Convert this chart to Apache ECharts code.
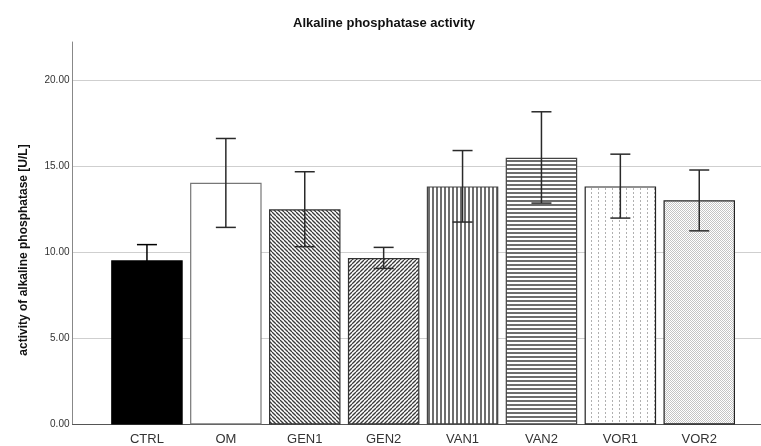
<!DOCTYPE html>
<html>
<head>
    <meta charset="UTF-8">
    <title>Alkaline phosphatase activity</title>
    <script src="https://cdn.jsdelivr.net/npm/echarts@6/dist/echarts.min.js"></script>
    <style type="text/css">
        html, body { margin: 0; padding: 0; background: #fff; }
        #chart { width: 761px; height: 446px; }
    </style>
</head>
<body>
<div id="chart"></div>
<script>
    // values
    let groups = ['CTRL', 'OM', 'GEN1', 'GEN2', 'VAN1', 'VAN2', 'VOR1', 'VOR2'];
    let means = [9.53, 14.03, 12.49, 9.66, 13.82, 15.48, 13.82, 13.01];
    let errLow = [8.62, 11.44, 10.32, 9.06, 11.75, 12.85, 11.98, 11.24];
    let errHigh = [10.44, 16.6, 14.67, 10.28, 15.9, 18.15, 15.69, 14.77];
    let yTicks = [0, 5, 10, 15, 20];
    let yMax = 22.2;

    function makePattern(w, h, draw) {
        let c = document.createElement('canvas');
        c.width = w;
        c.height = h;
        let ctx = c.getContext('2d');
        ctx.fillStyle = '#fff';
        ctx.fillRect(0, 0, w, h);
        draw(ctx);
        return {image: c, repeat: 'repeat'};
    }

    function diag(dir) {
        return makePattern(4, 4, function (ctx) {
            ctx.strokeStyle = '#3a3a3a';
            ctx.lineWidth = 1.3;
            for (let o = -4; o <= 4; o += 4) {
                ctx.beginPath();
                if (dir > 0) {
                    ctx.moveTo(o, 0);
                    ctx.lineTo(o + 4, 4);
                } else {
                    ctx.moveTo(o + 4, 0);
                    ctx.lineTo(o, 4);
                }
                ctx.stroke();
            }
        });
    }

    let fills = [
        '#000',
        '#fff',
        diag(1),
        diag(-1),
        makePattern(4, 4, function (ctx) {
            ctx.fillStyle = '#6e6e6e';
            ctx.fillRect(0, 0, 2, 4);
        }),
        makePattern(4, 4, function (ctx) {
            ctx.fillStyle = '#6e6e6e';
            ctx.fillRect(0, 0, 4, 2);
        }),
        makePattern(7, 4, function (ctx) {
            ctx.fillStyle = '#b0b0b0';
            ctx.fillRect(3, 0, 1, 2);
        }),
        makePattern(2, 2, function (ctx) {
            ctx.fillStyle = '#c4c4c4';
            ctx.fillRect(0, 0, 1, 1);
            ctx.fillRect(1, 1, 1, 1);
        })
    ];
    let borders = ['#000', '#777', '#333', '#333', '#444', '#444', '#222', '#222'];
    let errColors = ['#000', '#2a2a2a', '#2a2a2a', '#2a2a2a', '#2a2a2a', '#2a2a2a', '#2a2a2a', '#2a2a2a'];

    let barData = [];
    for (let i = 0; i < groups.length; i++) {
        barData.push({
            value: means[i],
            itemStyle: {color: fills[i], borderColor: borders[i], borderWidth: 1.2}
        });
    }
    let errData = [];
    for (let i = 0; i < groups.length; i++) {
        errData.push([i, errLow[i], errHigh[i], means[i]]);
    }

    let myChart = echarts.init(document.getElementById('chart'));
    let gridTop = 42, gridBottom = 21.5;

    myChart.setOption({
        animation: false,
        title: {
            text: 'Alkaline phosphatase activity',
            left: 288,
            top: 12,
            textStyle: {fontFamily: 'Liberation Sans', fontSize: 13, fontWeight: 'bold', color: '#111'}
        },
        graphic: [{
            type: 'text',
            x: 24,
            y: 250,
            rotation: Math.PI / 2,
            style: {
                text: 'activity of alkaline phosphatase [U/L]',
                fontFamily: 'Liberation Sans',
                fontSize: 12,
                fontWeight: 'bold',
                fill: '#111',
                align: 'center',
                verticalAlign: 'middle'
            }
        }],
        grid: [
            {left: 72.5, right: 0, top: gridTop, bottom: gridBottom},
            {left: 107.5, right: 22.3, top: gridTop, bottom: gridBottom}
        ],
        xAxis: [
            {
                gridIndex: 0, type: 'value', min: 0, max: 1,
                axisLine: {show: true, lineStyle: {color: '#555', width: 1}},
                axisTick: {show: false}, axisLabel: {show: false}, splitLine: {show: false}
            },
            {
                gridIndex: 1, type: 'category', data: groups,
                axisLine: {show: false}, axisTick: {show: false},
                axisLabel: {margin: 8, fontFamily: 'Liberation Sans', fontSize: 13, color: '#333'}
            }
        ],
        yAxis: [
            {
                gridIndex: 0, type: 'value', min: 0, max: yMax, interval: 5,
                axisLine: {show: true, lineStyle: {color: '#888', width: 1}},
                axisTick: {show: false},
                axisLabel: {
                    margin: 3, fontFamily: 'Liberation Sans', fontSize: 10, color: '#333',
                    formatter: function (v) {
                        return yTicks.indexOf(v) >= 0 ? v.toFixed(2) : '';
                    }
                },
                splitLine: {
                    show: true,
                    lineStyle: {color: ['transparent', '#cfcfcf', '#cfcfcf', '#cfcfcf', '#cfcfcf', 'transparent'], width: 1.2}
                }
            },
            {
                gridIndex: 1, type: 'value', min: 0, max: yMax, show: false
            }
        ],
        series: [
            {
                type: 'bar',
                xAxisIndex: 1,
                yAxisIndex: 1,
                barWidth: 71.5,
                data: barData
            },
            {
                type: 'custom',
                xAxisIndex: 1,
                yAxisIndex: 1,
                renderItem: function (params, api) {
                    let lo = api.coord([api.value(0), api.value(1)]);
                    let hi = api.coord([api.value(0), api.value(2)]);
                    let hw = 10;
                    let st = {stroke: errColors[params.dataIndex], lineWidth: 1.5};
                    return {
                        type: 'group',
                        children: [
                            {type: 'line', shape: {x1: lo[0], y1: lo[1], x2: hi[0], y2: hi[1]}, style: st},
                            {type: 'line', shape: {x1: lo[0] - hw, y1: lo[1], x2: lo[0] + hw, y2: lo[1]}, style: st},
                            {type: 'line', shape: {x1: hi[0] - hw, y1: hi[1], x2: hi[0] + hw, y2: hi[1]}, style: st}
                        ]
                    };
                },
                encode: {x: 0, y: [1, 2]},
                data: errData,
                z: 5
            }
        ]
    });
</script>
</body>
</html>
